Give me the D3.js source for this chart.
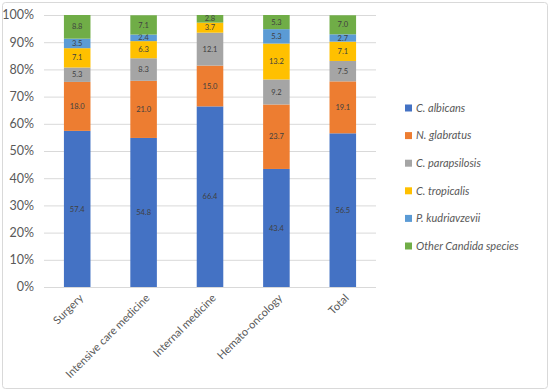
<!DOCTYPE html>
<meta charset="utf-8">
<style>
body { margin: 0; background: #fff; }
svg { font-family: "Lato", "Open Sans", sans-serif; }
.grid line { stroke: #d9d9d9; stroke-width: 1px; }
.axis text { fill: #595959; font-size: 11px; }
.axis.yax text { font-size: 12.5px; }
.legend text { fill: #595959; font-size: 11px; font-style: italic; }
.lbl { fill: #404040; font-size: 7.5px; }
</style>
<svg width="550" height="392"></svg>
<script src="https://cdn.jsdelivr.net/npm/d3@7"></script>
<script>
var categories = ["Surgery", "Intensive care medicine", "Internal medicine", "Hemato-oncology", "Total"];
var species = ["C. albicans", "N. glabratus", "C. parapsilosis", "C. tropicalis", "P. kudriavzevii", "Other Candida species"];
var colors = ["#4472C4", "#ED7D31", "#A5A5A5", "#FFC000", "#5B9BD5", "#70AD47"];

// percent values per species, in category order
var albicans     = [57.4, 54.8, 66.4, 43.4, 56.5];
var glabratus    = [18.0, 21.0, 15.0, 23.7, 19.1];
var parapsilosis = [5.3, 8.3, 12.1, 9.2, 7.5];
var tropicalis   = [7.1, 6.3, 3.7, 13.2, 7.1];
var kudriavzevii = [3.5, 2.4, 0, 5.3, 2.7];
var other        = [8.8, 7.1, 2.8, 5.3, 7.0];
var yTicks = [0, 10, 20, 30, 40, 50, 60, 70, 80, 90, 100];

var seriesVals = [albicans, glabratus, parapsilosis, tropicalis, kudriavzevii, other];

var svg = d3.select("svg");

// outer frame
svg.append("rect")
    .attr("x", 2.5).attr("y", 2.5)
    .attr("width", 545).attr("height", 386)
    .attr("rx", 3)
    .style("fill", "#fff")
    .style("stroke", "#d9d9d9");

var margin = {top: 15, left: 44},
    width = 332,
    height = 272;

var g = svg.append("g").attr("transform", "translate(" + margin.left + "," + margin.top + ")");

var x = d3.scaleBand().domain(categories).range([0, width]).paddingInner(0.6).paddingOuter(0.3);
var y = d3.scaleLinear().domain([0, 100]).range([height, 0]);

g.append("g").attr("class", "grid")
  .selectAll("line")
  .data(yTicks)
  .enter().append("line")
    .attr("x1", 0).attr("x2", width)
    .attr("y1", function(d) { return y(d) + 0.5; })
    .attr("y2", function(d) { return y(d) + 0.5; });

g.append("g").attr("class", "axis yax")
  .selectAll("text")
  .data(yTicks)
  .enter().append("text")
    .attr("x", -10)
    .attr("y", function(d) { return y(d); })
    .attr("dy", "0.35em")
    .attr("text-anchor", "end")
    .text(function(d) { return d + "%"; });

// build stacked table
var rows = categories.map(function(c, i) {
  var r = {cat: c};
  species.forEach(function(s, j) { r[s] = seriesVals[j][i]; });
  return r;
});
var stack = d3.stack().keys(species)(rows);

var clip = function(v) { return Math.min(100, v); };

var layer = g.selectAll(".layer")
  .data(stack)
  .enter().append("g")
    .attr("class", "layer")
    .style("fill", function(d, i) { return colors[i]; });

layer.selectAll("rect")
  .data(function(d) { return d; })
  .enter().append("rect")
    .attr("x", function(d) { return x(d.data.cat); })
    .attr("width", x.bandwidth())
    .attr("y", function(d) { return y(clip(d[1])); })
    .attr("height", function(d) { return Math.max(0, y(clip(d[0])) - y(clip(d[1]))); });

layer.selectAll("text")
  .data(function(d) { return d.filter(function(p) { return p[1] - p[0] > 0; }); })
  .enter().append("text")
    .attr("class", "lbl")
    .attr("x", function(d) { return x(d.data.cat) + x.bandwidth() / 2; })
    .attr("y", function(d) { return (y(clip(d[0])) + y(clip(d[1]))) / 2; })
    .attr("dy", "0.35em")
    .attr("text-anchor", "middle")
    .text(function(d) { return (d[1] - d[0]).toFixed(1); });

// x labels, rotated
g.append("g").attr("class", "axis")
  .selectAll("text")
  .data(categories)
  .enter().append("text")
    .attr("transform", function(d) {
      return "translate(" + (x(d) + x.bandwidth() / 2 + 4) + "," + (height + 9) + ") rotate(-45)";
    })
    .attr("text-anchor", "end")
    .attr("dy", "0.35em")
    .text(function(d) { return d; });

// legend
var legend = svg.append("g").attr("class", "legend")
  .selectAll("g")
  .data(species)
  .enter().append("g")
    .attr("transform", function(d, i) { return "translate(405," + (108 + i * 27.6) + ")"; });

legend.append("rect")
    .attr("x", 0).attr("y", -3.5)
    .attr("width", 7).attr("height", 7)
    .style("fill", function(d, i) { return colors[i]; });

legend.append("text")
    .attr("x", 11)
    .attr("dy", "0.35em")
    .text(function(d) { return d; });
</script>
